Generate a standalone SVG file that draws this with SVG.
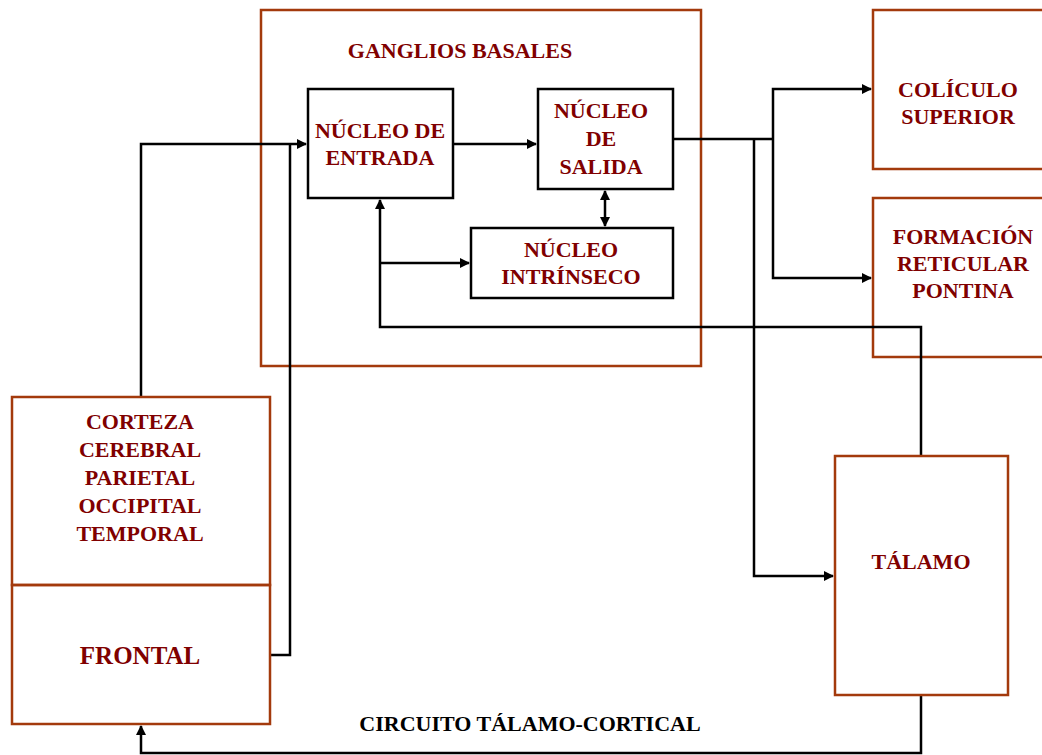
<svg xmlns="http://www.w3.org/2000/svg" width="1042" height="755" viewBox="0 0 1042 755">
<defs>
<style>
.bx{fill:none;stroke:#A33A0C;stroke-width:2.5}
.nb{fill:#fff;stroke:#000;stroke-width:2.5}
.t{font-family:"Liberation Serif","Times New Roman",serif;font-weight:bold;font-size:22px;fill:#800000;text-anchor:middle}
.c{fill:none;stroke:#000;stroke-width:2.5}
</style>
<marker id="ar" viewBox="0 0 10 10" refX="9" refY="5" markerWidth="4" markerHeight="4" orient="auto-start-reverse" markerUnits="strokeWidth">
<path d="M0,0 L10,5 L0,10 z" fill="#000"/>
</marker>
</defs>
<rect width="1042" height="755" fill="#fff"/>
<g id="ganglios">
<rect class="bx" x="261" y="10" width="440" height="356"/>
<text class="t" x="460" y="58">GANGLIOS BASALES</text>
</g>
<g id="coliculo">
<rect class="bx" x="873" y="10" width="180" height="159"/>
<text class="t" x="958" y="97">COLÍCULO</text>
<text class="t" x="958" y="124">SUPERIOR</text>
</g>
<g id="formacion">
<rect class="bx" x="873" y="198" width="180" height="159"/>
<text class="t" x="963" y="244">FORMACIÓN</text>
<text class="t" x="963" y="271">RETICULAR</text>
<text class="t" x="963" y="298">PONTINA</text>
</g>
<g id="connectors">
<polyline class="c" points="141,397 141,144 306,144" marker-end="url(#ar)"/>
<polyline class="c" points="270,655 290,655 290,144"/>
<line class="c" x1="453" y1="144" x2="536" y2="144" marker-end="url(#ar)"/>
<line class="c" x1="605" y1="191" x2="605" y2="226" marker-start="url(#ar)" marker-end="url(#ar)"/>
<polyline class="c" points="921,456 921,327 380,327 380,200" marker-end="url(#ar)"/>
<line class="c" x1="380" y1="263" x2="469" y2="263" marker-end="url(#ar)"/>
<line class="c" x1="673" y1="139" x2="773" y2="139"/>
<polyline class="c" points="773,139 773,89 871,89" marker-end="url(#ar)"/>
<polyline class="c" points="773,139 773,278 871,278" marker-end="url(#ar)"/>
<polyline class="c" points="754,139 754,576 833,576" marker-end="url(#ar)"/>
<polyline class="c" points="921,695 921,753 141,753 141,726" marker-end="url(#ar)"/>
</g>
<g id="entrada">
<rect class="nb" x="308" y="89" width="145" height="109"/>
<text class="t" x="380" y="138">NÚCLEO DE</text>
<text class="t" x="380" y="165">ENTRADA</text>
</g>
<g id="salida">
<rect class="nb" x="538" y="89" width="135" height="100"/>
<text class="t" x="601" y="118">NÚCLEO</text>
<text class="t" x="601" y="146">DE</text>
<text class="t" x="601" y="174">SALIDA</text>
</g>
<g id="intrinseco">
<rect class="nb" x="471" y="228" width="202" height="70"/>
<text class="t" x="571" y="257">NÚCLEO</text>
<text class="t" x="571" y="284">INTRÍNSECO</text>
</g>
<g id="corteza">
<rect class="bx" x="12" y="397" width="258" height="188"/>
<text class="t" x="140" y="429">CORTEZA</text>
<text class="t" x="140" y="457">CEREBRAL</text>
<text class="t" x="140" y="485">PARIETAL</text>
<text class="t" x="140" y="513">OCCIPITAL</text>
<text class="t" x="140" y="541">TEMPORAL</text>
</g>
<g id="frontal">
<rect class="bx" x="12" y="585" width="258" height="139"/>
<text class="t" x="140" y="664" style="font-size:25px">FRONTAL</text>
</g>
<g id="talamo">
<rect class="bx" x="835" y="456" width="173" height="239"/>
<text class="t" x="921" y="569">TÁLAMO</text>
</g>
<g id="label">
<text class="t" x="530" y="731" style="fill:#000">CIRCUITO TÁLAMO-CORTICAL</text>
</g>
</svg>
